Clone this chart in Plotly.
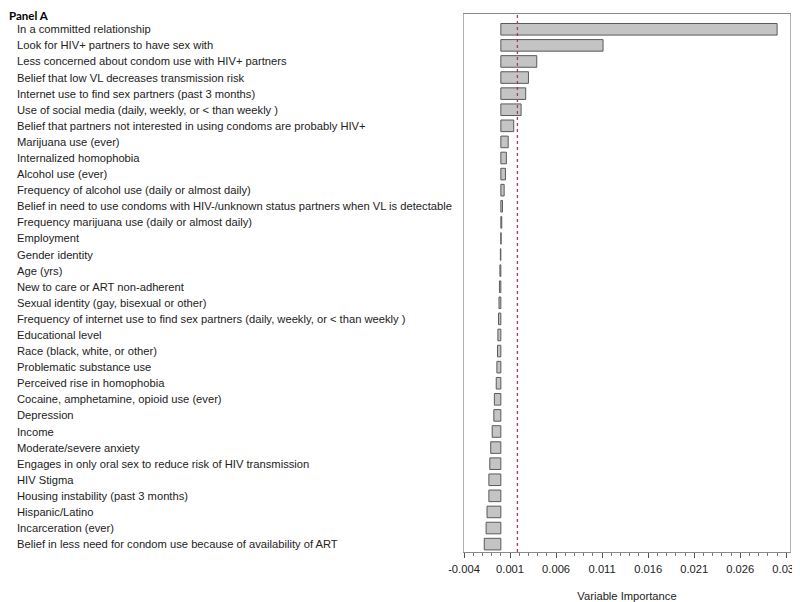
import plotly.graph_objects as go

categories = [
    "In a committed relationship",
    "Look for HIV+ partners to have sex with",
    "Less concerned about condom use with HIV+ partners",
    "Belief that low VL decreases transmission risk",
    "Internet use to find sex partners (past 3 months)",
    "Use of social media (daily, weekly, or < than weekly )",
    "Belief that partners not interested in using condoms are probably HIV+",
    "Marijuana use (ever)",
    "Internalized homophobia",
    "Alcohol use (ever)",
    "Frequency of alcohol use (daily or almost daily)",
    "Belief in need to use condoms with HIV-/unknown status partners when VL is detectable",
    "Frequency marijuana use (daily or almost daily)",
    "Employment",
    "Gender identity",
    "Age (yrs)",
    "New to care or ART non-adherent",
    "Sexual identity (gay, bisexual or other)",
    "Frequency of internet use to find sex partners (daily, weekly, or < than weekly )",
    "Educational level",
    "Race (black, white, or other)",
    "Problematic substance use",
    "Perceived rise in homophobia",
    "Cocaine, amphetamine, opioid use (ever)",
    "Depression",
    "Income",
    "Moderate/severe anxiety",
    "Engages in only oral sex to reduce risk of HIV transmission",
    "HIV Stigma",
    "Housing instability (past 3 months)",
    "Hispanic/Latino",
    "Incarceration (ever)",
    "Belief in less need for condom use because of availability of ART",
]

importance = [
    0.0300, 0.0111, 0.0039, 0.0030, 0.0027, 0.0022, 0.0014, 0.0008,
    0.0006, 0.0005, 0.00036, 0.00018, 0.0001, 0.00003, -0.00005, -0.0001,
    -0.00015, -0.0002, -0.00025, -0.00032, -0.00036, -0.00043, -0.0005,
    -0.0007, -0.00076, -0.00094, -0.0011, -0.0012, -0.0013, -0.0013,
    -0.0015, -0.0016, -0.0018,
]

threshold = 0.0018
tick_vals = [-0.004, 0.001, 0.006, 0.011, 0.016, 0.021, 0.026, 0.031]
tick_text = ["-0.004", "0.001", "0.006", "0.011", "0.016", "0.021", "0.026", "0.031"]

# the page body adds an 8px offset, so margins are shifted by 8px
W, H = 800, 602
L, R, T, B = 456, 18, 6, 58
pw = W - L - R
ph = H - T - B

fig = go.Figure()
fig.add_trace(go.Bar(
    y=list(range(len(categories))),
    x=importance,
    orientation="h",
    marker=dict(color="#c4c4c4", line=dict(color="#5a5a5a", width=1)),
    width=0.72,
    hoverinfo="skip",
))

fig.add_vline(x=threshold, line=dict(color="#a83a5e", width=1.3, dash="3px,3px"))

annotations = []
for i, c in enumerate(categories):
    annotations.append(dict(
        x=(8 - L) / pw, xref="paper", y=i, yref="y",
        text=c, showarrow=False, xanchor="left", yanchor="middle",
        borderpad=0,
        font=dict(family="Liberation Sans, Arial", size=11.2, color="#222222"),
    ))
annotations.append(dict(
    x=(0 - L) / pw, xref="paper", y=1 + T / ph, yref="paper",
    text="<b>Panel A</b>", showarrow=False, xanchor="left", yanchor="top",
    borderpad=0,
    font=dict(family="Lato, Open Sans", size=11.5, color="#000000"),
))

fig.update_layout(
    width=W, height=H,
    margin=dict(l=L, r=R, t=T, b=B, autoexpand=False),
    paper_bgcolor="white", plot_bgcolor="white",
    showlegend=False,
    annotations=annotations,
    xaxis=dict(
        automargin=False,
        range=[-0.004, 0.0314],
        tickvals=tick_vals, ticktext=tick_text,
        ticklabeloverflow="allow",
        ticks="outside", ticklen=5, tickcolor="#555555", tickwidth=1,
        ticklabelstandoff=2,
        minor=dict(dtick=0.001, tick0=-0.004, ticks="outside", ticklen=3, tickcolor="#777777", showgrid=False),
        showgrid=False, zeroline=False,
        showline=True, linecolor="#8a8a8a", linewidth=1, mirror=True,
        tickfont=dict(family="Liberation Sans, Arial", size=11.2, color="#222222"),
        title=dict(text="Variable Importance", standoff=17,
                   font=dict(family="Liberation Sans, Arial", size=11.2, color="#222222")),
    ),
    yaxis=dict(
        automargin=False,
        range=[32.49, -0.95],
        showticklabels=False, ticks="",
        showgrid=False, zeroline=False,
        showline=True, linecolor="#b0b0b0", linewidth=1, mirror=True,
    ),
)

fig.write_html("out.html")
